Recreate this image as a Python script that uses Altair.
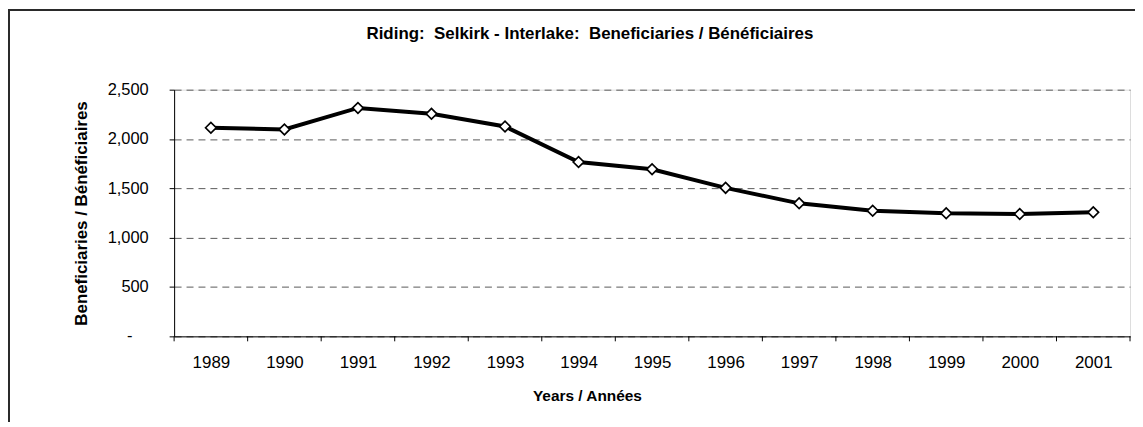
import altair as alt
import pandas as pd

years = [1989, 1990, 1991, 1992, 1993, 1994, 1995, 1996, 1997, 1998, 1999, 2000, 2001]
beneficiaries = [2114, 2097, 2315, 2255, 2127, 1767, 1694, 1505, 1348, 1273, 1247, 1240, 1257]
y_ticks = [0, 500, 1000, 1500, 2000, 2500]

title_text = "Riding:\u00a0 Selkirk - Interlake:\u00a0 Beneficiaries / Bénéficiaires"
y_title = "Beneficiaries / Bénéficiaires"
x_title = "Years / Années"
zero_label = "-"

df = pd.DataFrame({"year": years, "value": beneficiaries})
bounds = pd.DataFrame({"b": [y - 0.5 for y in years] + [years[-1] + 0.5]})

LABEL_FONT = "Liberation Sans, Arial, sans-serif"
TITLE_FONT = "Liberation Sans Narrow, Arial Narrow, Liberation Sans, Arial, sans-serif"

W, H = 961, 248

xscale = alt.Scale(domain=[years[0] - 0.5, years[-1] + 0.5], nice=False, zero=False)
yscale = alt.Scale(domain=[0, 2500], nice=False)

xaxis = alt.Axis(
    values=years, format="d", ticks=False, grid=False,
    labelFont=LABEL_FONT, labelFontSize=17, labelColor="black", labelPadding=18,
    labelFlush=False, labelOverlap=False,
    domainColor="black", domainWidth=1,
    title=x_title, titleFont=TITLE_FONT, titleFontSize=15.5, titleFontWeight="bold",
    titleColor="black", titleX=415, titleY=64, titleBaseline="alphabetic", titleAnchor="start",
    titleAlign="center",
)
yaxis = alt.Axis(
    values=y_ticks,
    labelExpr="datum.value == 0 ? '' : format(datum.value, ',')",
    labelFont=LABEL_FONT, labelFontSize=16.5, labelColor="black", labelPadding=21,
    tickSize=5, tickColor="black", domainColor="black",
    grid=True, gridColor="#5a5a5a", gridDash=[7, 5], gridWidth=1,
    title=y_title, titleFont=TITLE_FONT, titleFontSize=17, titleFontWeight="bold",
    titleColor="black", titleX=-88, titleY=H / 2, titleAngle=270,
    titleBaseline="alphabetic", titleAlign="center",
)

base = alt.Chart(df)

line = base.mark_line(color="black", strokeWidth=4).encode(
    x=alt.X("year:Q", scale=xscale, axis=xaxis),
    y=alt.Y("value:Q", scale=yscale, axis=yaxis),
)
points = base.mark_point(
    shape="diamond", size=115, filled=True, fill="white", stroke="black", strokeWidth=1.7, opacity=1
).encode(
    x=alt.X("year:Q", scale=xscale),
    y=alt.Y("value:Q", scale=yscale),
)
ticks = alt.Chart(bounds).mark_rule(color="black", strokeWidth=1).encode(
    x=alt.X("b:Q", scale=xscale),
    y=alt.value(H),
    y2=alt.value(H + 5),
)
zero = alt.Chart(pd.DataFrame({"v": [0], "t": [zero_label]})).mark_text(
    font=LABEL_FONT, fontSize=16.5, color="black", align="center", baseline="middle",
).encode(
    text="t:N", x=alt.value(-44.5), y=alt.Y("v:Q", scale=yscale)
)
frame = alt.Chart(pd.DataFrame({"k": [0]})).mark_rect(
    fill=None, stroke="#2a2a2a", strokeWidth=2
).encode(
    x=alt.value(-166), x2=alt.value(1100), y=alt.value(-80), y2=alt.value(500)
)
title = alt.Chart(pd.DataFrame({"t": [title_text]})).mark_text(
    font=TITLE_FONT, fontSize=17, fontWeight="bold", color="black",
    align="center", baseline="alphabetic",
).encode(
    text="t:N", x=alt.value(418), y=alt.value(-51)
)

chart = alt.layer(frame, ticks, line, points, zero, title).properties(
    width=W, height=H,
    autosize=alt.AutoSizeParams(type="none"),
    padding={"left": 167, "top": 81, "right": 5, "bottom": 85},
).configure_view(stroke="black", strokeWidth=1).configure(background="white")

chart.save("out.html", embed_options={"renderer": "svg", "actions": False})
